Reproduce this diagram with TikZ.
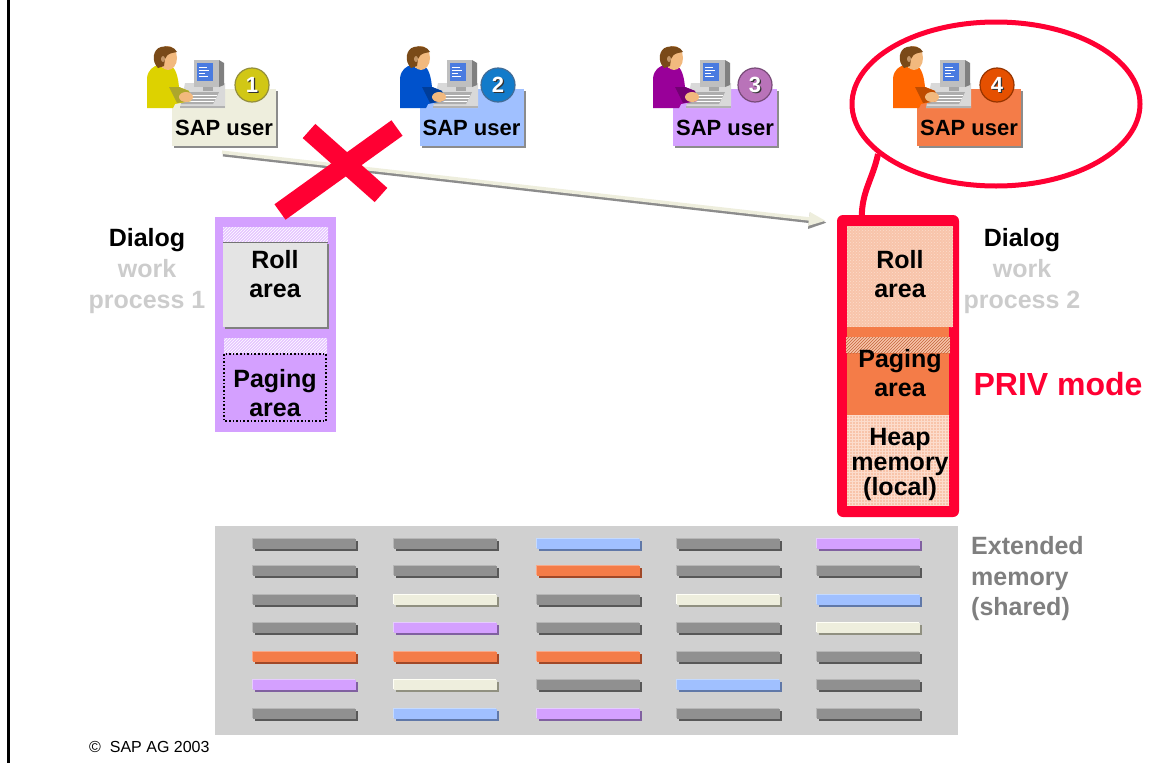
\documentclass[tikz,border=0pt]{standalone}
\usepackage{fontspec}
\setmainfont{Liberation Sans}
\usetikzlibrary{shapes.geometric,arrows.meta,patterns,calc}

\definecolor{sapred}{HTML}{FF0033}
\definecolor{cream}{HTML}{EEEEDD}
\definecolor{sapblue}{HTML}{A0C0FF}
\definecolor{sappurple}{HTML}{D4A0FF}
\definecolor{saporange}{HTML}{F47C48}
\definecolor{labelgray}{HTML}{CCCCCC}
\definecolor{extgray}{HTML}{7F7F7F}
\definecolor{panelgray}{HTML}{D0D0D0}
\definecolor{salmon}{HTML}{F8C4AA}
\definecolor{salmonlt}{HTML}{FCDCCC}
\definecolor{rollgray}{HTML}{E4E4E4}
\definecolor{skin}{HTML}{F2B97E}
\definecolor{hair}{HTML}{7A4A18}
\definecolor{screenblue}{HTML}{4A7BE0}
% memory bar colours: main, light edge, dark shadow
\definecolor{barg}{HTML}{909090}\definecolor{barglt}{HTML}{B6B6B6}\definecolor{bargdk}{HTML}{585858}
\definecolor{barb}{HTML}{A0C0FF}\definecolor{barblt}{HTML}{C4DAFF}\definecolor{barbdk}{HTML}{6078A8}
\definecolor{baro}{HTML}{F47C48}\definecolor{barolt}{HTML}{F8A888}\definecolor{barodk}{HTML}{A04828}
\definecolor{barp}{HTML}{D4A0FF}\definecolor{barplt}{HTML}{E6CCFF}\definecolor{barpdk}{HTML}{8060A0}
\definecolor{barc}{HTML}{EEEEDD}\definecolor{barclt}{HTML}{FFFFF6}\definecolor{barcdk}{HTML}{909080}

% one shadowed bar of the shared memory block
\newcommand\membar[3]{%
  \fill[bar#3dk] (#1+2,#2+2) rectangle ++(103,10);
  \fill[bar#3lt] (#1-1.5,#2-1.5) rectangle ++(103,10);
  \fill[bar#3] (#1,#2) rectangle ++(103,10);}
\newcommand\memrow[6]{%
  \membar{253}{#1}{#2}\membar{394}{#1}{#3}\membar{537}{#1}{#4}%
  \membar{677}{#1}{#5}\membar{817}{#1}{#6}}

% person at a computer, local coordinates from the top-left corner
\newcommand\sapperson[3]{%
  \begin{scope}[shift={(#1,#2)}]
    \fill[black!15] (38,36) -- (78,36) -- (78,61) -- (33,61) -- cycle;
    \fill[black!30] (33,59) -- (78,59) -- (78,61) -- (33,61) -- cycle;
    \fill[black!35] (56,39) rectangle (66,44);
    \fill[black!25] (47,13) rectangle (72,40);
    \fill[black!50] (72,13) -- (77,16) -- (77,38) -- (72,40) -- cycle;
    \fill[screenblue] (50,16) rectangle (66,34);
    \draw[white, line width=0.8] (52,20) -- (60,20) (52,23) -- (62,23)
      (52,26) -- (58,26) (52,29) -- (61,29);
    \fill[black!32] (40,45) -- (72,45) -- (66,57) -- (34,57) -- cycle;
    \draw[white, line width=0.5] (39,48) -- (70,48) (37,51) -- (69,51) (36,54) -- (67,54);
    \fill[#3] (0,61) -- (0,31) .. controls (1,23) and (6,19) .. (12,18) -- (23,18)
      .. controls (29,21) and (31,30) .. (32,40) -- (42,44) -- (44,54) -- (28,57)
      -- (26,61) -- cycle;
    \fill[#3!75!black] (22,40) -- (32,40) -- (42,44) -- (44,54) -- (30,56) -- cycle;
    \fill[skin] (39,50) ellipse [x radius=7, y radius=5];
    \fill[skin] (15,15) rectangle (24,21);
    \fill[skin] (21,11) ellipse [x radius=9, y radius=12];
    \fill[hair] (11,21) .. controls (4,14) and (6,2) .. (14,0)
      .. controls (20,-2) and (28,0) .. (30,5) -- (25,6)
      .. controls (21,7) and (19,9) .. (18,12) -- (17,19) -- cycle;
    \fill[skin!80!black] (16,12) ellipse [x radius=2, y radius=3];
  \end{scope}}

% user card: name, box centre x, icon x, badge x, shirt, card colour, badge colour, number
\newcommand\sapuser[8]{%
  \node[userbox, fill=#6] (#1) at (#2,117.5) {};
  \sapperson{#3}{47}{#5}
  \node[badge, fill=#7, draw=#7!65!black] (#1badge) at (#4,85) {};
  \node[badgenum, text=black!80] (#1numsh) at (#4+1.2,86.2) {#8};
  \node[badgenum] (#1num) at (#4,85) {#8};
  \node[usertext] (#1text) at (#2,128) {SAP user};}

\begin{document}
\begin{tikzpicture}[x=1pt, y=-1pt,
  userbox/.style={rectangle, inner sep=0, minimum width=104, minimum height=57,
    preaction={fill=black!45, transform canvas={xshift=2pt, yshift=-2pt}}},
  usertext/.style={font=\fontsize{22}{26}\selectfont\bfseries, inner sep=0},
  badge/.style={circle, inner sep=0, minimum size=34, line width=1.2},
  badgenum/.style={font=\fontsize{22}{24}\selectfont\bfseries, text=white, inner sep=0},
  areatext/.style={font=\fontsize{25}{29}\selectfont\bfseries, align=center, inner sep=0},
  sidelabel/.style={font=\fontsize{25}{31}\selectfont\bfseries, align=center, inner sep=0},
  stripe/.style={pattern=north east lines, pattern color=white},
]
\useasboundingbox (0,0) rectangle (1156,763);

% page rule on the left
\draw[line width=3] (8.5,0) -- (8.5,763);

% the four users
\sapuser{u1}{224}{147}{252}{yellow!70!olive}{cream}{yellow!55!olive!90!white}{1}
\sapuser{u2}{471.5}{400}{498}{blue!60!cyan!80!black}{sapblue}{cyan!60!blue}{2}
\sapuser{u3}{725}{653}{755}{violet!80!magenta}{sappurple}{violet!55!white}{3}
\sapuser{u4}{969}{893}{997}{orange!80!red}{saporange}{orange!70!red!90!black}{4}

% dialog work process 1
\node[fill=sappurple, minimum width=121, minimum height=215, inner sep=0] (p1) at (275.5,324.5) {};
\fill[black!50] (225,244) rectangle (329,329);
\fill[rollgray] (223,242) rectangle (327,327);
\fill[sappurple!60!white] (223,227) rectangle (328,242);
\fill[stripe] (223,227) rectangle (328,242);
\draw[black!55, line width=0.8] (223,242) -- (328,242);
\fill[sappurple!60!white] (224,338) rectangle (327,353);
\fill[stripe] (224,338) rectangle (327,353);
\draw[dotted, line width=1.6] (224,354) rectangle (326,421);
\node[areatext] (p1roll) at (275,274) {Roll\\area};
\node[areatext] (p1page) at (275,393) {Paging\\area};
\node[sidelabel] (d1) at (147,271) {Dialog\\\textcolor{labelgray}{work}\\\textcolor{labelgray}{process 1}};

% dialog work process 2, held in PRIV mode
\node[fill=sapred, rounded corners=6, minimum width=122, minimum height=302, inner sep=0] (p2) at (898,366) {};
\fill[salmon] (847,226) rectangle (953,327);
\fill[pattern=crosshatch dots, pattern color=salmonlt] (847,226) rectangle (953,327);
\fill[saporange] (847,327) rectangle (949,415);
\fill[salmon] (846,337) rectangle (950,353);
\fill[pattern=north east lines, pattern color=saporange!80!black] (846,337) rectangle (950,353);
\fill[salmon] (847,415) rectangle (949,505);
\fill[pattern=grid, pattern color=salmonlt] (847,415) rectangle (949,505);
\node[areatext] (p2roll) at (900,274) {Roll\\area};
\node[areatext] (p2page) at (900,373) {Paging\\area};
\node[areatext, font=\fontsize{25}{25}\selectfont\bfseries] (p2heap) at (900,464) {Heap\\memory\\(local)};
\node[sidelabel] (d2) at (1022,271) {Dialog\\\textcolor{labelgray}{work}\\\textcolor{labelgray}{process 2}};
\node[font=\fontsize{32}{36}\selectfont\bfseries, text=sapred, inner sep=0] (priv) at (1058,384) {PRIV mode};

% user 1 moves on to work process 2
\draw[black!45, line width=4.5, -{Triangle[length=18,width=15]}]
  ($(u1.south)+(-1,8)$) -- ($(p2.north west)+(-10,8)$);
\draw[cream, line width=3.5, -{Triangle[length=17,width=13]}]
  ($(u1.south)+(-2,6)$) -- ($(p2.north west)+(-11,6)$);

% user 1 is cut off from work process 1
\draw[sapred, line width=19] (309,131) -- (381,195);
\draw[sapred, line width=19] (397,128) -- (280,212);

% user 4 bound to work process 2
\node[draw=sapred, line width=5, ellipse, minimum width=288, minimum height=164, inner sep=0] (focus) at (996,104) {};
\draw[sapred, line width=6] (focus.203) to[out=258, in=90] ($(p2.north west)+(25,2)$);

% shared extended memory
\node[fill=panelgray, minimum width=743, minimum height=209, inner sep=0] (extmem) at (586.5,630.5) {};
\memrow{539}{g}{g}{b}{g}{p}
\memrow{566}{g}{g}{o}{g}{g}
\memrow{595}{g}{c}{g}{c}{b}
\memrow{623}{g}{p}{g}{g}{c}
\memrow{652}{o}{o}{o}{g}{g}
\memrow{680}{p}{c}{g}{b}{g}
\memrow{709}{g}{b}{p}{g}{g}
\node[font=\fontsize{25}{30.5}\selectfont\bfseries, text=extgray, align=left, anchor=west, inner sep=0] (ext) at (971,579) {Extended\\memory\\(shared)};

% footer
\node[font=\fontsize{16}{18}\selectfont, anchor=west, inner sep=0] (copy) at (89,747) {\textcopyright\ \ SAP AG 2003};
\end{tikzpicture}
\end{document}
